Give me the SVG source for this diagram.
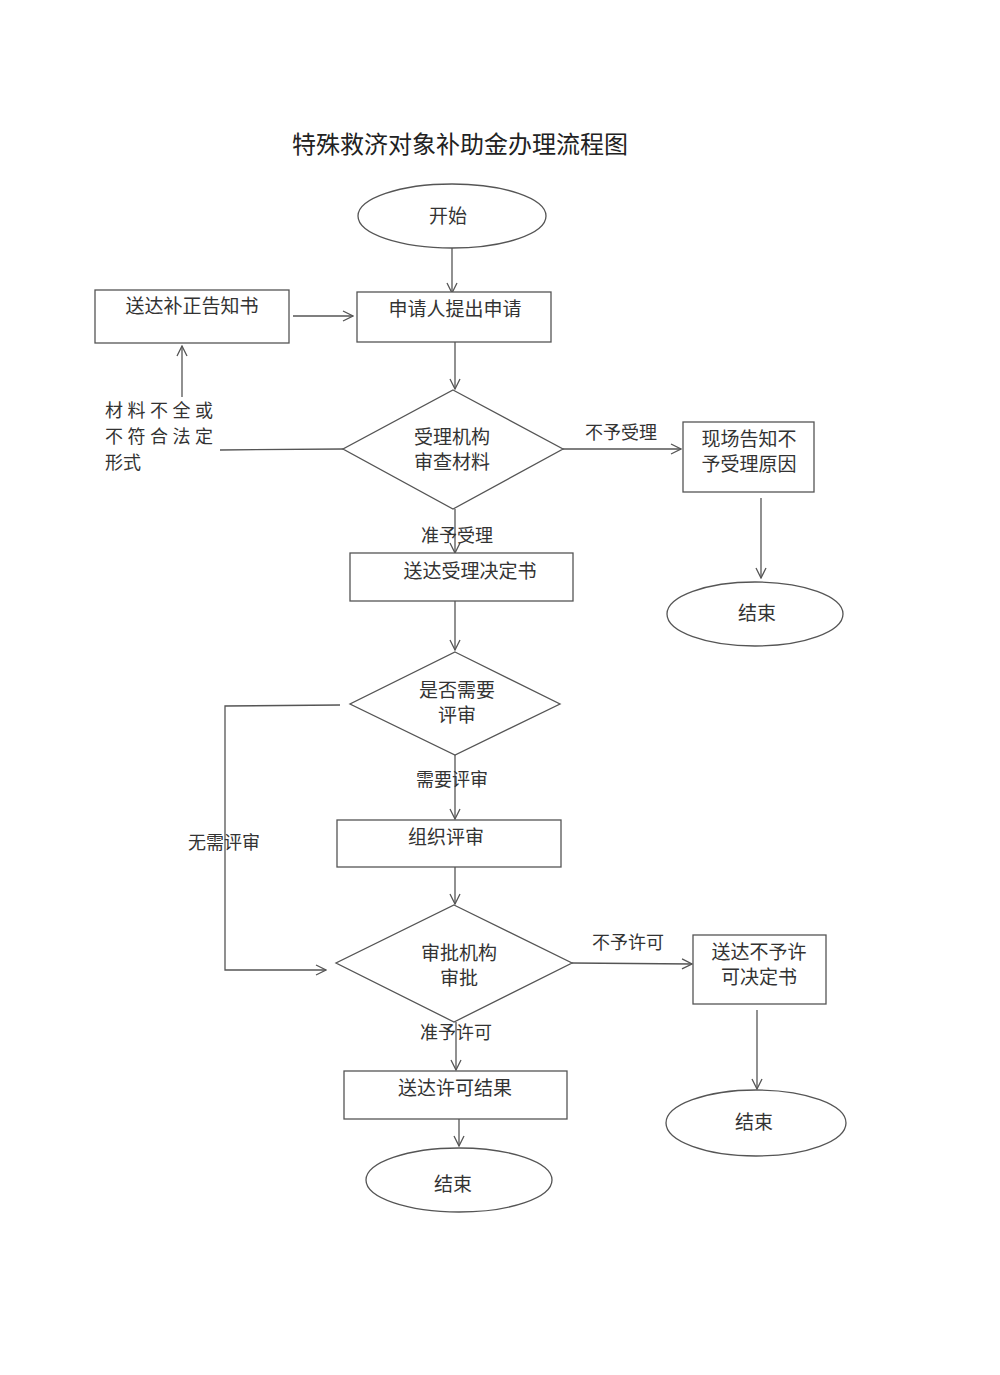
<svg xmlns="http://www.w3.org/2000/svg" width="1000" height="1375" viewBox="0 0 1000 1375">
<style>
.t{font-family:"Liberation Serif","Noto Sans CJK SC",serif;font-size:19px;fill:#333;text-anchor:middle}
.lbl{font-family:"Liberation Serif","Noto Sans CJK SC",serif;font-size:18px;fill:#333}
.s{fill:#fff;stroke:#555;stroke-width:1.3}
.c{fill:none;stroke:#555;stroke-width:1.3}
</style>
<defs>
<marker id="a" viewBox="0 0 12 12" refX="11" refY="6" markerWidth="12" markerHeight="12" markerUnits="userSpaceOnUse" orient="auto">
<path d="M1,1 L11,6 L1,11" fill="none" stroke="#555" stroke-width="1.3"/>
</marker>
</defs>
<rect width="1000" height="1375" fill="#fff"/>
<text x="460" y="153" style="font-family:'Liberation Serif','Noto Sans CJK SC',serif;font-size:24px;fill:#222;text-anchor:middle">特殊救济对象补助金办理流程图</text>
<g id="connectors">
<line class="c" x1="452" y1="248" x2="452" y2="293" marker-end="url(#a)"/>
<line class="c" x1="293" y1="316" x2="353" y2="316" marker-end="url(#a)"/>
<line class="c" x1="182" y1="397" x2="182" y2="346" marker-end="url(#a)"/>
<line class="c" x1="343" y1="449" x2="220" y2="450"/>
<line class="c" x1="455" y1="342" x2="455" y2="389" marker-end="url(#a)"/>
<line class="c" x1="563" y1="449" x2="681" y2="449" marker-end="url(#a)"/>
<line class="c" x1="761" y1="498" x2="761" y2="578" marker-end="url(#a)"/>
<line class="c" x1="455" y1="509" x2="455" y2="553" marker-end="url(#a)"/>
<line class="c" x1="455" y1="601" x2="455" y2="650" marker-end="url(#a)"/>
<polyline class="c" points="340,705 225,706 225,970 326,970" marker-end="url(#a)"/>
<line class="c" x1="455" y1="755" x2="455" y2="819" marker-end="url(#a)"/>
<line class="c" x1="455" y1="867" x2="455" y2="904" marker-end="url(#a)"/>
<line class="c" x1="572" y1="963" x2="692" y2="964" marker-end="url(#a)"/>
<line class="c" x1="757" y1="1010" x2="757" y2="1089" marker-end="url(#a)"/>
<line class="c" x1="456" y1="1022" x2="456" y2="1070" marker-end="url(#a)"/>
<line class="c" x1="459" y1="1119" x2="459" y2="1146" marker-end="url(#a)"/>
<text class="lbl" x="585" y="439">不予受理</text>
<text class="lbl" x="421" y="542">准予受理</text>
<text class="lbl" x="416" y="786">需要评审</text>
<text class="lbl" x="188" y="849">无需评审</text>
<text class="lbl" x="592" y="949">不予许可</text>
<text class="lbl" x="420" y="1039">准予许可</text>
<text class="lbl" x="105" y="417" style="letter-spacing:4.5px">材料不全或</text>
<text class="lbl" x="105" y="443" style="letter-spacing:4.5px">不符合法定</text>
<text class="lbl" x="105" y="469">形式</text>
</g>
<g id="start"><ellipse class="s" cx="452" cy="216" rx="94" ry="32"/><text class="t" x="448" y="223">开始</text></g>
<g id="apply"><rect class="s" x="357" y="292" width="194" height="50"/><text class="t" x="455" y="316">申请人提出申请</text></g>
<g id="notice"><rect class="s" x="95" y="290" width="194" height="53"/><text class="t" x="192" y="313">送达补正告知书</text></g>
<g id="review"><polygon class="s" points="453,390 563,449 453,509 343,449"/><text class="t" x="452" y="444">受理机构</text><text class="t" x="452" y="469">审查材料</text></g>
<g id="reject1"><rect class="s" x="683" y="422" width="131" height="70"/><text class="t" x="749" y="446">现场告知不</text><text class="t" x="749" y="471">予受理原因</text></g>
<g id="end1"><ellipse class="s" cx="755" cy="614" rx="88" ry="32"/><text class="t" x="757" y="620">结束</text></g>
<g id="accept"><rect class="s" x="350" y="553" width="223" height="48"/><text class="t" x="470" y="578">送达受理决定书</text></g>
<g id="needreview"><polygon class="s" points="455,652 560,704 455,755 350,704"/><text class="t" x="457" y="697">是否需要</text><text class="t" x="457" y="722">评审</text></g>
<g id="organize"><rect class="s" x="337" y="820" width="224" height="47"/><text class="t" x="446" y="844">组织评审</text></g>
<g id="approve"><polygon class="s" points="454,905 572,963 454,1022 336,963"/><text class="t" x="459" y="960">审批机构</text><text class="t" x="459" y="985">审批</text></g>
<g id="reject2"><rect class="s" x="693" y="935" width="133" height="69"/><text class="t" x="759" y="959">送达不予许</text><text class="t" x="759" y="984">可决定书</text></g>
<g id="end2"><ellipse class="s" cx="756" cy="1123" rx="90" ry="33"/><text class="t" x="754" y="1129">结束</text></g>
<g id="result"><rect class="s" x="344" y="1071" width="223" height="48"/><text class="t" x="455" y="1095">送达许可结果</text></g>
<g id="end3"><ellipse class="s" cx="459" cy="1180" rx="93" ry="32"/><text class="t" x="453" y="1191">结束</text></g>
</svg>
